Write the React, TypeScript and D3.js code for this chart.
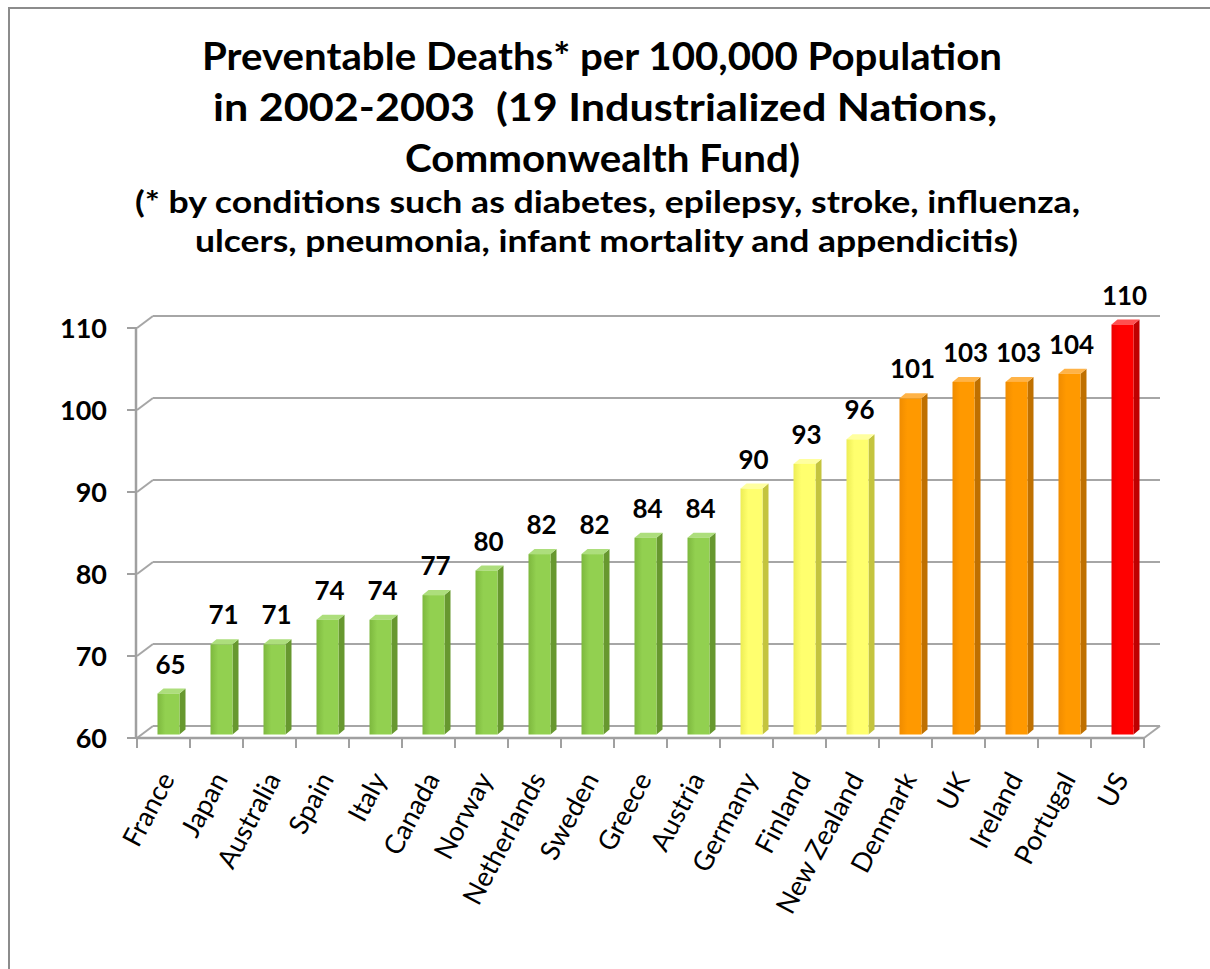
import React from "react";
import * as d3 from "d3";

const countries = ["France","Japan","Australia","Spain","Italy","Canada","Norway","Netherlands","Sweden","Greece","Austria","Germany","Finland","New Zealand","Denmark","UK","Ireland","Portugal","US"];
const values = [65,71,71,74,74,77,80,82,82,84,84,90,93,96,101,103,103,104,110];
const groups = ["g","g","g","g","g","g","g","g","g","g","g","y","y","y","o","o","o","o","r"];
const yTicks = [60,70,80,90,100,110];
const titleLines = ["Preventable Deaths* per 100,000 Population","in 2002-2003  (19 Industrialized Nations,","Commonwealth Fund)"];
const subtitleLines = ["(* by conditions such as diabetes, epilepsy, stroke, influenza,","ulcers, pneumonia, infant mortality and appendicitis)"];

const palette: Record<string, {front: string; dark: string; side: string; top: string}> = {
  g: { front: "#92D050", dark: "#7DB83E", side: "#67982F", top: "#ADDE7C" },
  y: { front: "#FFFF6E", dark: "#EDED55", side: "#C4C43E", top: "#FFFFA0" },
  o: { front: "#FF9900", dark: "#F08C00", side: "#BF7000", top: "#FFB347" },
  r: { front: "#FF0000", dark: "#EE0000", side: "#BF0000", top: "#FF5050" },
};

export default function App() {
  const W = 1210, H = 969;
  const x = d3.scaleBand<string>().domain(countries).range([137, 1144]).padding(0);
  const y = d3.scaleLinear().domain([60, 110]).range([738, 328]);
  const backDx = 16, backDy = -12;
  const barOffX = 5, barOffY = -3.5;
  const barW = 22, depthX = 6, depthY = -5;
  const gridColor = "#a6a6a6";
  const font = "Lato, 'Open Sans', sans-serif";
  const titleSpans = [[202, 1002], [213, 997], [405, 800]];
  const subSpans = [[135, 1080], [195, 1018]];

  return (
    <svg width={W} height={H} style={{ position: "absolute", left: 0, top: 0, background: "#fff" }}>
      <defs>
        {Object.entries(palette).map(([k, c]) => (
          <linearGradient key={k} id={"grad-" + k} x1="0" x2="1" y1="0" y2="0">
            <stop offset="0" stopColor={c.dark} />
            <stop offset="0.35" stopColor={c.front} />
            <stop offset="1" stopColor={c.front} />
          </linearGradient>
        ))}
      </defs>
      <rect x={9} y={8} width={1300} height={1100} fill="none" stroke="#8c8c8c" strokeWidth={2} />

      {titleLines.map((t, i) => (
        <text key={"t" + i} x={titleSpans[i][0]} y={70 + i * 51} textLength={titleSpans[i][1] - titleSpans[i][0]} lengthAdjust="spacingAndGlyphs" style={{ whiteSpace: "pre" }} fontFamily={font} fontWeight={700} fontSize={38} fill="#000">{t}</text>
      ))}
      {subtitleLines.map((t, i) => (
        <text key={"s" + i} x={subSpans[i][0]} y={213 + i * 39} textLength={subSpans[i][1] - subSpans[i][0]} lengthAdjust="spacingAndGlyphs" fontFamily={font} fontWeight={700} fontSize={30} fill="#000">{t}</text>
      ))}

      {/* back wall gridlines and left wall diagonals */}
      {yTicks.map((v) => (
        <g key={"grid" + v}>
          <line x1={137 + backDx} x2={1144 + backDx} y1={y(v) + backDy} y2={y(v) + backDy} stroke={gridColor} strokeWidth={2} />
          <line x1={137} x2={137 + backDx} y1={y(v)} y2={y(v) + backDy} stroke={gridColor} strokeWidth={2} />
        </g>
      ))}
      {/* floor */}
      <line x1={137} x2={1144} y1={y(60)} y2={y(60)} stroke="#a0a0a0" strokeWidth={2.5} />
      <line x1={1144} x2={1144 + backDx} y1={y(60)} y2={y(60) + backDy} stroke={gridColor} strokeWidth={2} />
      {/* y axis */}
      <line x1={136} x2={136} y1={y(110)} y2={y(60)} stroke="#a0a0a0" strokeWidth={2.5} />
      {yTicks.map((v) => (
        <g key={"yt" + v}>
          <line x1={127} x2={137} y1={y(v)} y2={y(v)} stroke="#a0a0a0" strokeWidth={2} />
          <text x={107} y={y(v) + 10} textAnchor="end" fontFamily={font} fontWeight={700} fontSize={27} fill="#000">{v}</text>
        </g>
      ))}
      {/* category ticks */}
      {countries.concat(["__end"]).map((c, i) => {
        const xx = 137 + i * x.step();
        return <line key={"ct" + i} x1={xx} x2={xx} y1={y(60)} y2={y(60) + 10} stroke="#a0a0a0" strokeWidth={2} />;
      })}

      {/* bars */}
      {countries.map((c, i) => {
        const col = palette[groups[i]];
        const cx = (x(c) as number) + x.bandwidth() / 2 + barOffX;
        const x0 = cx - barW / 2, x1 = cx + barW / 2;
        const yb = y(60) + barOffY, yt = y(values[i]) + barOffY;
        const side = `M${x1},${yb} L${x1 + depthX},${yb + depthY} L${x1 + depthX},${yt + depthY} L${x1},${yt} Z`;
        const top = `M${x0},${yt} L${x0 + depthX},${yt + depthY} L${x1 + depthX},${yt + depthY} L${x1},${yt} Z`;
        return (
          <g key={"bar" + c}>
            <path d={side} fill={col.side} />
            <path d={top} fill={col.top} />
            <rect x={x0} y={yt} width={barW} height={yb - yt} fill={`url(#grad-${groups[i]})`} />
            <text x={cx + 2} y={yt - 20} textAnchor="middle" fontFamily={font} fontWeight={700} fontSize={26} fill="#000">{values[i]}</text>
          </g>
        );
      })}

      {/* category labels */}
      {countries.map((c) => {
        const cx = (x(c) as number) + x.bandwidth() / 2 + 12;
        const cy = 779;
        return (
          <text key={"cl" + c} x={cx} y={cy} textAnchor="end" fontFamily={font} fontSize={27} fill="#000" transform={`rotate(-62, ${cx}, ${cy})`}>{c}</text>
        );
      })}
    </svg>
  );
}
